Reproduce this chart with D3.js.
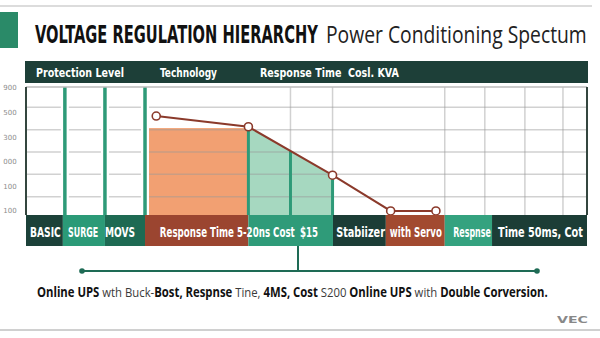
<!DOCTYPE html>
<html><head><meta charset="utf-8">
<script src="https://cdn.jsdelivr.net/npm/d3@7/dist/d3.min.js"></script>
<style>
html,body{margin:0;padding:0;background:#fff;}
svg{display:block;}
</style></head>
<body>
<svg id="chart" width="600" height="338"></svg>
<script>
// ---------- data ----------
const titleBold = "VOLTAGE REGULATION HIERARCHY";
const titleLight = "Power Conditioning Spectum";
const headerLabels = ["Protection Level", "Technology", "Response Time  Cosl. KVA"];
const yTickLabels = ["900", "500", "300", "000", "100", "100"];
const gridValues = [100, 200, 300, 400, 500];
const gridColumns = [6.6, 7.65, 10.45, 11.45, 12.45, 13.4];
const tierDividers = [0.97, 1.97, 2.97];
const surgeBlockStart = 2.97, surgeBlockEnd = 5.55, surgeBlockValue = 407;
const responseX = [3.25, 5.55, 7.65, 9.1, 10.23];
const responseV = [461, 413, 196, 36, 36];
const greenDividers = [5.55, 6.6, 7.65];
const bandStarts = [0, 0.92, 1.97, 2.97, 5.55, 7.66, 8.98, 10.45, 11.63];
const bandEnd = 14;
const bandTexts = ["BASIC", "SURGE", "MOVS", "Response Time 5-20ns Cost", "$15", "Stabiizer", "with Servo", "Respnse", "Time 50ms, Cot"];
const bandTextStart = [0.1, 1.05, 1.97, 3.34, 6.84, 7.74, 9.08, 10.66, 11.78];
const bandTextEnd = [0.87, 1.8, 2.72, 6.71, 7.29, 8.96, 10.38, 11.6, 13.9];
const footerParts = [
  ["Online UPS", true], [" wth Buck-", false], ["Bost, Respnse", true], [" Tine, ", false],
  ["4MS, Cost", true], [" S200 ", false], ["Online UPS", true], [" with ", false], ["Double Corversion.", true]
];
const logoText = "VEC";

// ---------- styles ----------
const bandColors = ["#1c4139", "#2b9a77", "#1e6a53", "#9b4530", "#2f9b79", "#1c3d36", "#a24a30", "#34a27f", "#1c3d36"];
const C = {
  dark: "#1d3f38", green: "#2e9a78", orange: "#f2a072", greenFill: "#a6d8c0",
  line: "#8b3a2b", grid: "#999", conn: "#1e6b55"
};
const condensed = "'Liberation Sans Narrow','DejaVu Sans Condensed','Roboto',sans-serif";

const svg = d3.select("#chart");
const plot = {left: 26, right: 587, top: 87, bottom: 215};
const x = d3.scaleLinear().domain([0, 14]).range([plot.left, plot.right]);
const y = d3.scaleLinear().domain([0, 600]).range([219, 85]);

// horizontally fit a text element to a target width with a transform
function fit(sel, targetFn) {
  sel.each(function (d, i) {
    const el = d3.select(this);
    const x0 = +el.attr("x"), y0 = +el.attr("y");
    const w = this.getComputedTextLength();
    const t = typeof targetFn === "function" ? targetFn(d, i) : targetFn;
    el.attr("x", 0).attr("y", 0)
      .attr("transform", `translate(${x0},${y0}) scale(${t / w},1)`);
  });
}

// frame lines
svg.append("rect").attr("x", 0).attr("y", 5).attr("width", 592).attr("height", 2).attr("fill", "#dcdcdc");
svg.append("rect").attr("x", 0).attr("y", 329).attr("width", 600).attr("height", 2).attr("fill", "#d0d0d0");

// title
svg.append("rect").attr("x", 0).attr("y", 12).attr("width", 18).attr("height", 36).attr("fill", "#2a8a68");
svg.append("text").attr("x", 35).attr("y", 43).text(titleBold)
  .attr("font-family", condensed).attr("font-weight", "bold").attr("font-size", 25)
  .attr("fill", "#111").call(fit, 283);
svg.append("text").attr("x", 326).attr("y", 43).text(titleLight)
  .attr("font-family", "'Open Sans','Noto Sans',sans-serif").attr("font-size", 24)
  .attr("fill", "#222").call(fit, 261);

// header bar
svg.append("rect").attr("x", 25).attr("y", 61).attr("width", 563).attr("height", 22).attr("fill", C.dark);
const headerX = [36, 160, 260], headerW = [88, 57, 139];
svg.selectAll(".hdr").data(headerLabels).join("text")
  .attr("x", (d, i) => headerX[i]).attr("y", 77).text(d => d)
  .attr("font-family", condensed).attr("font-weight", "bold").attr("font-size", 13)
  .attr("fill", "#fff").style("white-space", "pre")
  .call(fit, (d, i) => headerW[i]);

// plot background
svg.append("rect").attr("x", plot.left).attr("y", plot.top).attr("width", plot.right - plot.left)
  .attr("height", plot.bottom - plot.top).attr("fill", "#fff");

const clip = svg.append("defs").append("clipPath").attr("id", "pc");
clip.append("rect").attr("x", plot.left).attr("y", plot.top).attr("width", plot.right - plot.left).attr("height", plot.bottom - plot.top);
const g = svg.append("g").attr("clip-path", "url(#pc)");

// orange block
g.append("rect").attr("x", x(surgeBlockStart)).attr("y", y(surgeBlockValue))
  .attr("width", x(surgeBlockEnd) - x(surgeBlockStart)).attr("height", plot.bottom - y(surgeBlockValue))
  .attr("fill", C.orange);

// green area under response segment
const pts = responseX.map((d, i) => ({x: d, v: responseV[i]}));
const greenPts = pts.filter(p => p.x >= greenDividers[0] && p.x <= greenDividers[greenDividers.length - 1]);
g.append("path").datum(greenPts)
  .attr("d", d3.area().x(d => x(d.x)).y0(plot.bottom).y1(d => y(d.v)))
  .attr("fill", C.greenFill);

// gridlines
g.selectAll(".hg").data(gridValues).join("line")
  .attr("x1", plot.left).attr("x2", plot.right).attr("y1", d => y(d)).attr("y2", d => y(d))
  .attr("stroke", C.grid).attr("stroke-opacity", 0.45).attr("stroke-width", 1.5);
g.selectAll(".vg").data(gridColumns).join("line")
  .attr("x1", d => x(d)).attr("x2", d => x(d)).attr("y1", plot.top).attr("y2", plot.bottom)
  .attr("stroke", C.grid).attr("stroke-opacity", 0.45).attr("stroke-width", 1.5);

// tier dividers with halo
g.selectAll(".th").data(tierDividers).join("line")
  .attr("x1", d => x(d)).attr("x2", d => x(d)).attr("y1", plot.top).attr("y2", plot.bottom)
  .attr("stroke", "#fff").attr("stroke-width", 8);
g.selectAll(".td").data(tierDividers).join("line")
  .attr("x1", d => x(d)).attr("x2", d => x(d)).attr("y1", plot.top).attr("y2", plot.bottom)
  .attr("stroke", C.green).attr("stroke-width", 3.5);

// green dividers inside green area
const interpV = xv => {
  for (let i = 0; i < pts.length - 1; i++) {
    if (xv >= pts[i].x && xv <= pts[i + 1].x) {
      const t = (xv - pts[i].x) / (pts[i + 1].x - pts[i].x);
      return pts[i].v + t * (pts[i + 1].v - pts[i].v);
    }
  }
  return 0;
};
g.selectAll(".gd").data(greenDividers).join("line")
  .attr("x1", d => x(d)).attr("x2", d => x(d)).attr("y1", d => y(interpV(d))).attr("y2", plot.bottom)
  .attr("stroke", C.green).attr("stroke-width", 3);

// frame of plot
svg.append("line").attr("x1", plot.left).attr("x2", plot.right).attr("y1", plot.top).attr("y2", plot.top)
  .attr("stroke", "#bbb").attr("stroke-width", 1.5);
svg.append("line").attr("x1", plot.left).attr("x2", plot.left).attr("y1", plot.top).attr("y2", plot.bottom)
  .attr("stroke", "#34463f").attr("stroke-width", 2);
svg.append("line").attr("x1", plot.right).attr("x2", plot.right).attr("y1", plot.top).attr("y2", plot.bottom)
  .attr("stroke", "#34463f").attr("stroke-width", 2);

// y tick labels
const yl = d3.scalePoint().domain(d3.range(yTickLabels.length)).range([88, 211]);
svg.selectAll(".yl").data(yTickLabels).join("text")
  .attr("x", 10).attr("y", (d, i) => yl(i)).attr("dy", "0.35em").attr("text-anchor", "middle")
  .attr("font-family", "'DejaVu Sans',sans-serif").attr("font-size", 7).attr("fill", "#8c8c8c").text(d => d);

// response line
g.append("path").datum(pts)
  .attr("d", d3.line().x(d => x(d.x)).y(d => y(d.v)))
  .attr("fill", "none").attr("stroke", C.line).attr("stroke-width", 2);
svg.selectAll(".pt").data(pts).join("circle")
  .attr("cx", d => x(d.x)).attr("cy", d => y(d.v)).attr("r", 4)
  .attr("fill", "#fff").attr("stroke", C.line).attr("stroke-width", 1.6);

// band
const bandTop = 215, bandH = 31;
svg.selectAll(".band").data(bandStarts).join("rect")
  .attr("x", d => x(d)).attr("y", bandTop)
  .attr("width", (d, i) => x(i < bandStarts.length - 1 ? bandStarts[i + 1] : bandEnd) - x(d))
  .attr("height", bandH).attr("fill", (d, i) => bandColors[i]);
svg.selectAll(".bt").data(bandTexts).join("text")
  .attr("x", (d, i) => x(bandTextStart[i])).attr("y", 237).text(d => d)
  .attr("font-family", condensed).attr("font-weight", "bold").attr("font-size", 14.5)
  .attr("fill", "#fff")
  .call(fit, (d, i) => x(bandTextEnd[i]) - x(bandTextStart[i]));

// connector
svg.append("path").attr("d", `M${298},${bandTop + bandH} V271 M82,271 H537`)
  .attr("fill", "none").attr("stroke", C.conn).attr("stroke-width", 2);
svg.selectAll(".cd").data([82, 537]).join("circle")
  .attr("cx", d => d).attr("cy", 271).attr("r", 2.8).attr("fill", C.conn);

// footer
const ft = svg.append("text").attr("x", 37).attr("y", 297)
  .attr("font-family", "'Open Sans','Noto Sans',sans-serif").attr("font-size", 13.5).attr("fill", "#111")
  .style("white-space", "pre");
ft.selectAll("tspan").data(footerParts).join("tspan")
  .attr("font-weight", d => d[1] ? "bold" : "normal").attr("fill", d => d[1] ? "#111" : "#3a3a3a")
  .text(d => d[0]);
ft.call(fit, 511);

// logo
svg.append("text").attr("x", 557).attr("y", 323).text(logoText)
  .attr("font-family", "'DejaVu Sans',sans-serif").attr("font-weight", "bold").attr("font-size", 9)
  .attr("fill", "#888").call(fit, 31);
</script>
</body></html>
